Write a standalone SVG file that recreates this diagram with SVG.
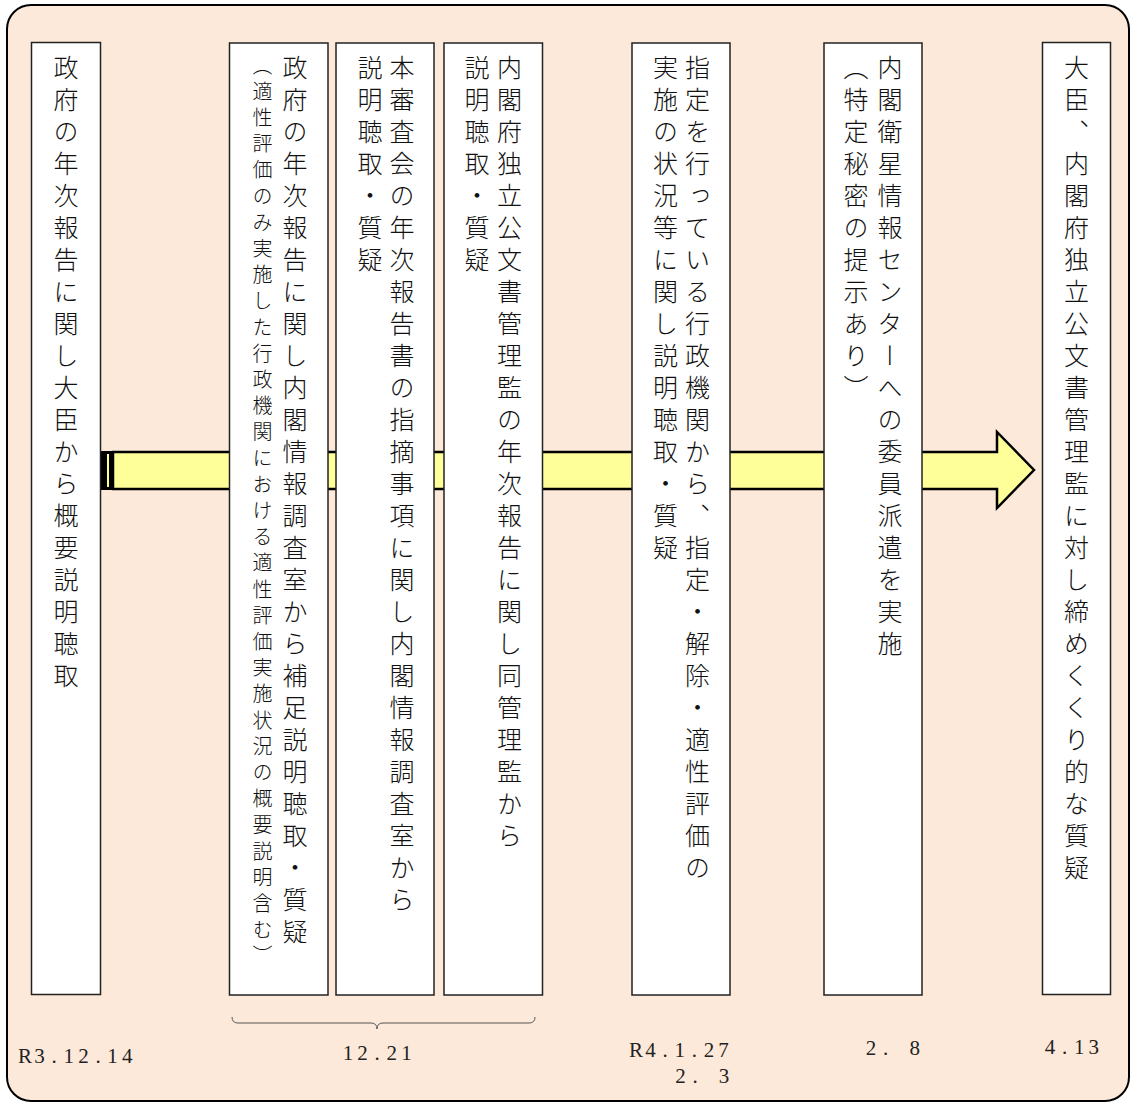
<svg xmlns="http://www.w3.org/2000/svg" width="1132" height="1104" viewBox="0 0 1132 1104">
<style>
.bg{fill:#FDE9D9;stroke:#000;stroke-width:2}
.box{fill:#fff;stroke:#222;stroke-width:1.5}
.v{font-family:"Noto Sans CJK JP","Noto Sans CJK SC",sans-serif;font-weight:300;font-size:25px;letter-spacing:7px;writing-mode:vertical-rl;fill:#111}
.vs{font-size:20px;letter-spacing:6.2px}
.d{font-family:"Liberation Serif",serif;font-size:21px;text-anchor:middle;fill:#222}
.arrow{fill:#FFFF99;stroke:#000;stroke-width:2.5;stroke-linejoin:miter}
.brace{fill:none;stroke:#555;stroke-width:1}
</style>
<rect class="bg" x="7" y="5" width="1122" height="1096" rx="24" ry="24"/>
<g id="connectors">
  <path class="arrow" d="M113,452 L997,452 L997,432 L1034,470 L997,508 L997,489 L113,489 Z"/>
  <rect x="101" y="451" width="12" height="39" fill="#000"/>
  <rect x="107" y="454" width="2" height="33" fill="#FFFF99"/>
  <path class="brace" d="M232,1017 Q232,1023 238,1023 L371,1023 Q377,1023 377,1029 Q377,1023 383,1023 L529,1023 Q535,1023 535,1017"/>
</g>
<g id="node1">
  <rect class="box" x="31.5" y="42.5" width="69" height="952"/>
  <text class="v" x="66" y="55">政府の年次報告に関し大臣から概要説明聴取</text>
</g>
<g id="node2">
  <rect class="box" x="229.5" y="43" width="98.5" height="952"/>
  <text class="v" x="295" y="55">政府の年次報告に関し内閣情報調査室から補足説明聴取・質疑</text>
  <text class="v vs" x="262.5" y="55">（適性評価のみ実施した行政機関における適性評価実施状況の概要説明含む）</text>
</g>
<g id="node3">
  <rect class="box" x="336" y="43" width="98" height="952"/>
  <text class="v" x="402" y="55">本審査会の年次報告書の指摘事項に関し内閣情報調査室から</text>
  <text class="v" x="370" y="55">説明聴取・質疑</text>
</g>
<g id="node4">
  <rect class="box" x="444" y="43" width="98.5" height="952"/>
  <text class="v" x="509.5" y="55">内閣府独立公文書管理監の年次報告に関し同管理監から</text>
  <text class="v" x="477" y="55">説明聴取・質疑</text>
</g>
<g id="node5">
  <rect class="box" x="632" y="43" width="98" height="952"/>
  <text class="v" x="697.5" y="55">指定を行っている行政機関から、指定・解除・適性評価の</text>
  <text class="v" x="665.5" y="55">実施の状況等に関し説明聴取・質疑</text>
</g>
<g id="node6">
  <rect class="box" x="824" y="43" width="98" height="952"/>
  <text class="v" x="890" y="55">内閣衛星情報センターへの委員派遣を実施</text>
  <text class="v" x="856" y="55">（特定秘密の提示あり）</text>
</g>
<g id="node7">
  <rect class="box" x="1042.5" y="42.5" width="68" height="952"/>
  <text class="v" x="1076.5" y="55">大臣、内閣府独立公文書管理監に対し締めくくり的な質疑</text>
</g>
<g id="dates">
  <text class="d" x="25 39.6 54.2 68.8 83.4 98 112.6 127.2" y="1063">R3.12.14</text>
  <text class="d" x="348 362.6 377.2 391.8 406.4" y="1060">12.21</text>
  <text class="d" x="636 650.6 665.2 679.8 694.4 709 723.6" y="1057">R4.1.27</text>
  <text class="d" x="680.5 695 709.5 724" y="1083">2. 3</text>
  <text class="d" x="871 885.6 900.2 914.8" y="1055">2. 8</text>
  <text class="d" x="1050 1064.6 1079.2 1093.8" y="1054">4.13</text>
</g>
</svg>
